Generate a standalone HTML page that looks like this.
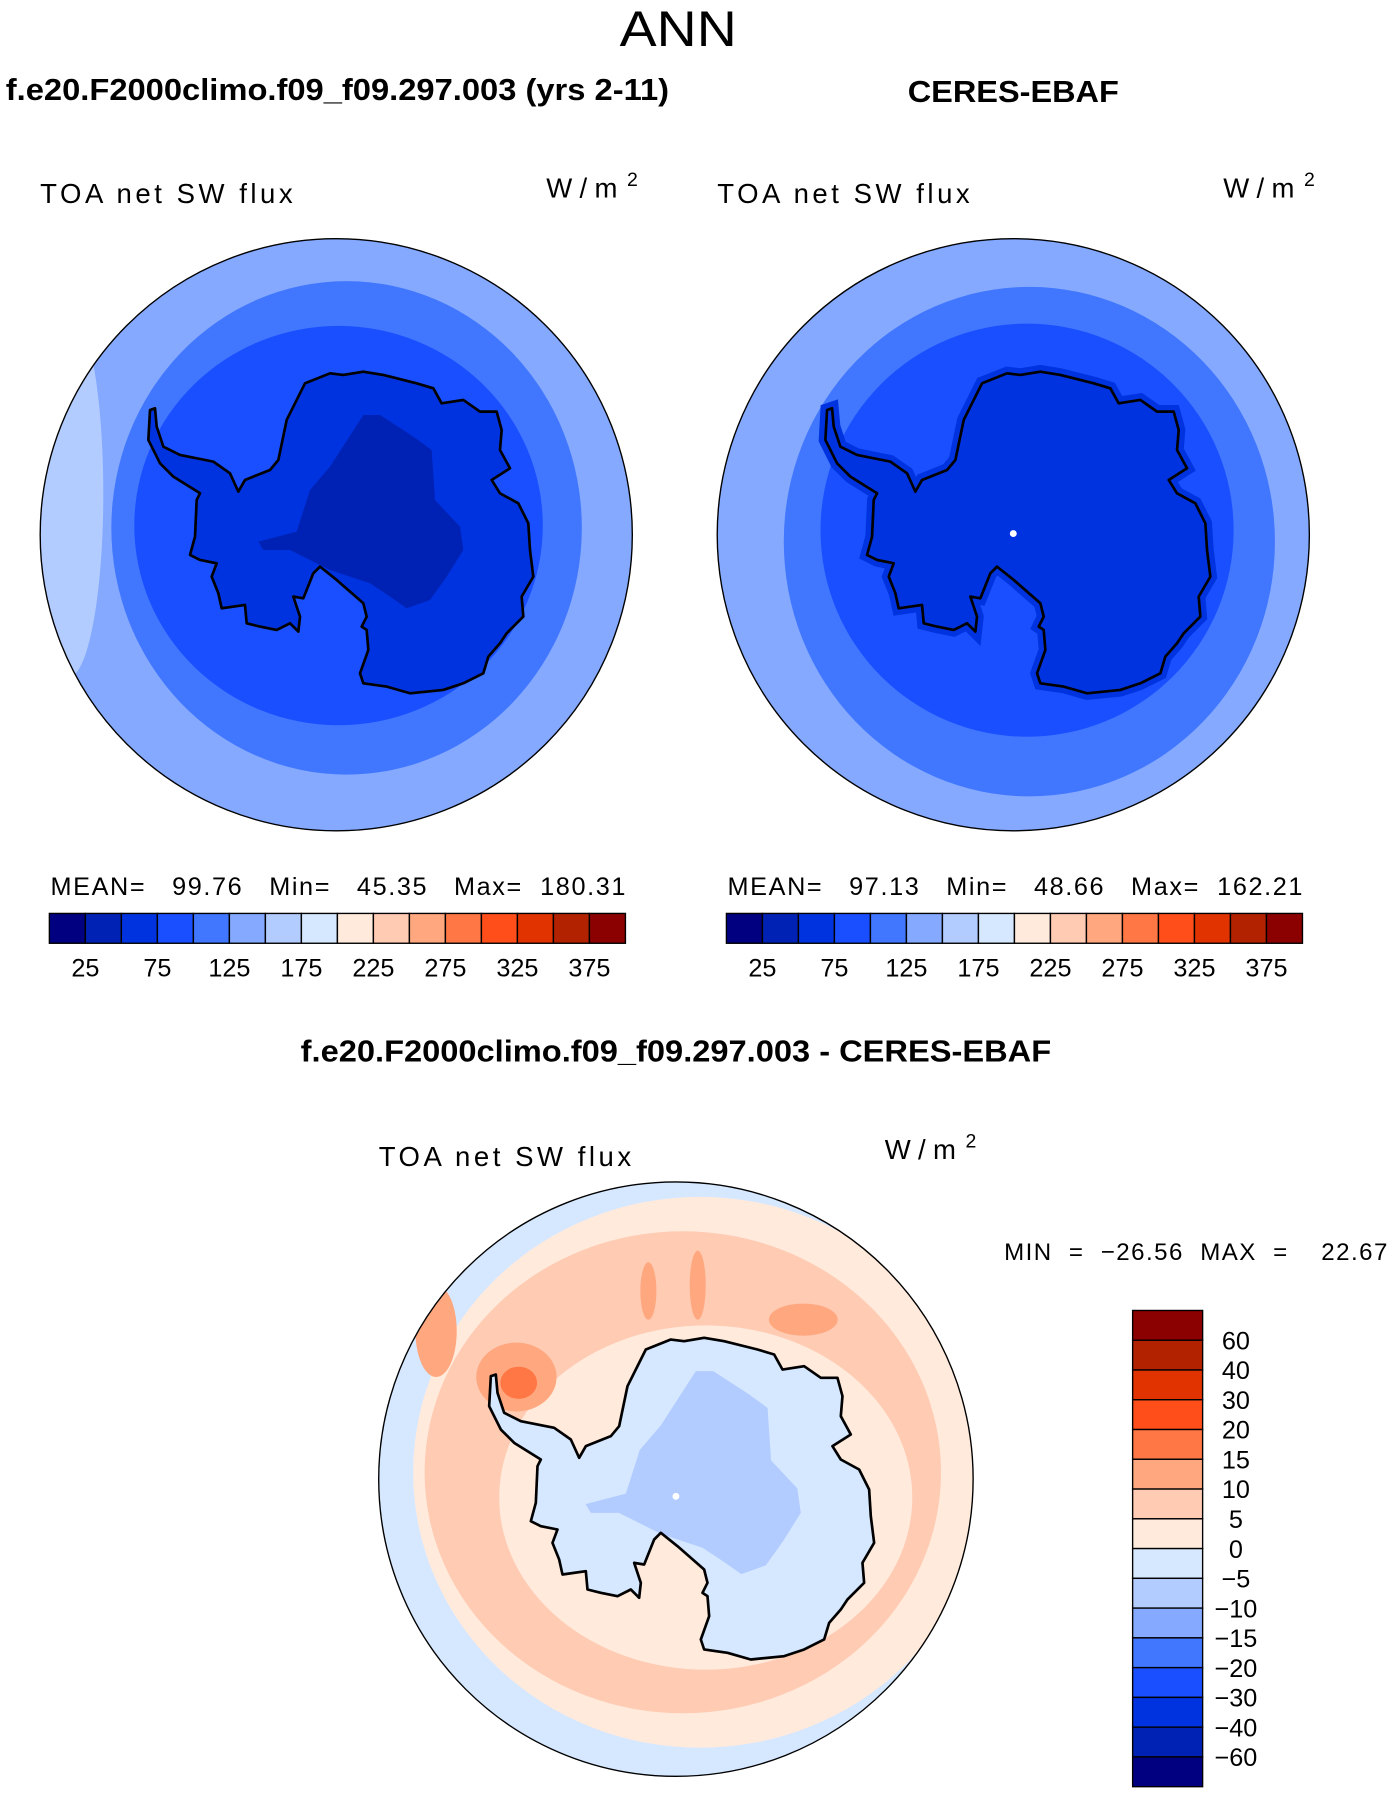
<!DOCTYPE html>
<html><head><meta charset="utf-8"><style>
html,body{margin:0;padding:0;background:#fff}
svg{display:block}
text{font-family:"Liberation Sans",sans-serif;fill:#000}
</style></head><body>
<svg id="fig" width="1392" height="1800" viewBox="0 0 1213 1568.6" xmlns="http://www.w3.org/2000/svg">
<defs>
<path id="ant" d="M325,425 L345,390 420,360 445,330 470,210 525,100 600,70 640,75 700,65 760,75 860,100 910,115 935,160 1000,150 1050,185 1100,185 1115,240 1110,300 1140,355 1085,390 1110,430 1165,460 1195,520 1200,600 1210,680 1175,740 1180,800 1130,850 1110,880 1075,920 1060,970 1000,1000 940,1020 840,1030 770,1010 700,1000 690,970 715,900 710,840 695,830 710,800 700,760 620,690 570,650 550,670 520,745 490,740 510,800 505,845 480,820 440,840 390,830 350,820 345,765 275,775 265,730 245,680 260,640 210,630 180,615 195,560 200,450 210,430 130,380 90,340 55,270 60,180 75,175 80,230 100,290 150,315 250,335 300,370 Z"/>
<path id="core" d="M385,575 L500,545 540,420 600,350 700,195 750,195 850,260 905,300 915,450 990,530 1000,600 950,680 900,750 830,775 780,740 720,700 600,660 480,600 400,600 Z"/>
<clipPath id="c1"><circle cx="293" cy="466" r="258"/></clipPath>
<clipPath id="c2"><circle cx="883" cy="466" r="258"/></clipPath>
<clipPath id="c3"><circle cx="589" cy="1289" r="259"/></clipPath>
</defs>

<text x="540" y="40" font-size="44" textLength="102" lengthAdjust="spacingAndGlyphs">ANN</text>
<text x="5" y="87" font-size="27" font-weight="bold" textLength="578" lengthAdjust="spacingAndGlyphs">f.e20.F2000climo.f09_f09.297.003 (yrs 2-11)</text>
<text x="791" y="89" font-size="27" font-weight="bold" textLength="184" lengthAdjust="spacingAndGlyphs">CERES-EBAF</text>

<!-- Left map -->
<text x="35" y="177" font-size="24" textLength="220">TOA net SW flux</text>
<text x="476" y="172" font-size="24"><tspan textLength="62">W/m</tspan><tspan dy="-10" font-size="17" dx="2">2</tspan></text>
<g clip-path="url(#c1)">
<circle cx="293" cy="466" r="258" fill="#84a9ff"/>
<ellipse cx="60" cy="430" rx="30" ry="160" fill="#b3ccff"/>
<ellipse cx="302" cy="460" rx="205" ry="215" fill="#4176ff"/>
<ellipse cx="295" cy="458" rx="178" ry="174" fill="#1a4fff"/>
<g transform="translate(113.28,304.98) scale(0.29046)">
<use href="#ant" fill="#0033e0"/>
<use href="#core" fill="#0022b4"/>
<use href="#ant" fill="none" stroke="#000" stroke-width="8" stroke-linejoin="round"/>
</g>
</g>
<circle cx="293" cy="466" r="258" fill="none" stroke="#000" stroke-width="1.2"/>
<text x="44" y="780" font-size="22" xml:space="preserve" textLength="501">MEAN=   99.76   Min=   45.35   Max=  180.31</text>
<g id="cb1"></g>

<!-- Right map -->
<text x="625" y="177" font-size="24" textLength="220">TOA net SW flux</text>
<text x="1066" y="172" font-size="24"><tspan textLength="62">W/m</tspan><tspan dy="-10" font-size="17" dx="2">2</tspan></text>
<g clip-path="url(#c2)">
<circle cx="883" cy="466" r="258" fill="#84a9ff"/>
<ellipse cx="897" cy="472" rx="214" ry="222" fill="#4176ff"/>
<ellipse cx="895" cy="462" rx="180" ry="180" fill="#1a4fff"/>
<g transform="translate(590,0) translate(113.28,304.98) scale(0.29046)">
<use href="#ant" fill="#0033e0" stroke="#0033e0" stroke-width="40"/>
<use href="#ant" fill="none" stroke="#000" stroke-width="8" stroke-linejoin="round"/>
</g>
<circle cx="883" cy="465" r="3" fill="#fff"/>
</g>
<circle cx="883" cy="466" r="258" fill="none" stroke="#000" stroke-width="1.2"/>
<text x="634" y="780" font-size="22" xml:space="preserve" textLength="501">MEAN=   97.13   Min=   48.66   Max=  162.21</text>
<g id="cb2"></g>

<!-- Difference map -->
<text x="262" y="925" font-size="27" font-weight="bold" textLength="654" lengthAdjust="spacingAndGlyphs">f.e20.F2000climo.f09_f09.297.003 - CERES-EBAF</text>
<text x="330" y="1016" font-size="24" textLength="220">TOA net SW flux</text>
<text x="771" y="1010" font-size="24"><tspan textLength="62">W/m</tspan><tspan dy="-10" font-size="17" dx="2">2</tspan></text>
<g clip-path="url(#c3)">
<circle cx="589" cy="1289" r="259" fill="#d6e8ff"/>
<ellipse cx="610" cy="1283" rx="250" ry="240" fill="#ffeadc"/>
<ellipse cx="595" cy="1283" rx="225" ry="210" fill="#ffcbb3"/>
<ellipse cx="615" cy="1305" rx="180" ry="150" fill="#ffeadc"/>
<ellipse cx="450" cy="1200" rx="35" ry="30" fill="#ffa880"/>
<ellipse cx="452" cy="1205" rx="16" ry="14" fill="#ff7744"/>
<ellipse cx="565" cy="1125" rx="7" ry="25" fill="#ffa880"/>
<ellipse cx="608" cy="1120" rx="7" ry="30" fill="#ffa880"/>
<ellipse cx="700" cy="1150" rx="30" ry="14" fill="#ffa880"/>
<ellipse cx="380" cy="1160" rx="18" ry="40" fill="#ffa880"/>
<g transform="translate(297,842) translate(113.28,304.98) scale(0.29046)">
<use href="#ant" fill="#d6e8ff"/>
<use href="#core" fill="#b3ccff" transform="translate(-60,-40) scale(1.05)"/>
<use href="#ant" fill="none" stroke="#000" stroke-width="8" stroke-linejoin="round"/>
</g>
<circle cx="589" cy="1304" r="3" fill="#fff"/>
</g>
<circle cx="589" cy="1289" r="259" fill="none" stroke="#000" stroke-width="1.2"/>
<text x="875" y="1098" font-size="21" xml:space="preserve" textLength="334">MIN  =  −26.56  MAX  =    22.67</text>
<g id="cb3"></g>
</svg>
<script>
const absColors = ["#000080","#0022b4","#0033e0","#1a4fff","#4176ff","#84a9ff","#b3ccff","#d6e8ff","#ffeadc","#ffcbb3","#ffa880","#ff7744","#ff4e1a","#e03300","#b32200","#8b0000"];
const absLabels = ["25","75","125","175","225","275","325","375"];
const diffColors = ["#8b0000","#b32200","#e03300","#ff4e1a","#ff7744","#ffa880","#ffcbb3","#ffeadc","#d6e8ff","#b3ccff","#84a9ff","#4176ff","#1a4fff","#0033e0","#0022b4","#000080"];
const diffLabels = ["60","40","30","20","15","10","5","0","−5","−10","−15","−20","−30","−40","−60"];
const NS = "http://www.w3.org/2000/svg";
function mk(tag, attrs, parent){const e=document.createElementNS(NS,tag);for(const k in attrs)e.setAttribute(k,attrs[k]);parent.appendChild(e);return e;}
function hbar(id, x0, x1, y0, y1){
  const g=document.getElementById(id);const w=(x1-x0)/absColors.length;
  absColors.forEach((c,i)=>{
    const r=mk('rect',{x:x0+i*w,y:y0,width:w,height:y1-y0,fill:c,stroke:'#000','stroke-width':1.2},g);
    
    
  });
  absLabels.forEach((l,i)=>{
    const t=mk('text',{x:x0+(2*i+1)*w,y:y1+29,'font-size':22,'text-anchor':'middle'},g);t.textContent=l;
    
    
  });
}
hbar('cb1',43,545,796,822);
hbar('cb2',633,1135,796,822);
(function(){
  const g=document.getElementById('cb3');const x0=987,x1=1048,y0=1142,y1=1557;const h=(y1-y0)/diffColors.length;
  diffColors.forEach((c,i)=>{
    const r=mk('rect',{x:x0,y:y0+i*h,width:x1-x0,height:h,fill:c,stroke:'#000','stroke-width':1.2},g);
    
    
  });
  diffLabels.forEach((l,i)=>{
    const t=mk('text',{x:1077,y:y0+(i+1)*h+8,'font-size':22,'text-anchor':'middle'},g);t.textContent=l;
    
    
  });
})();
</script>
</body></html>
